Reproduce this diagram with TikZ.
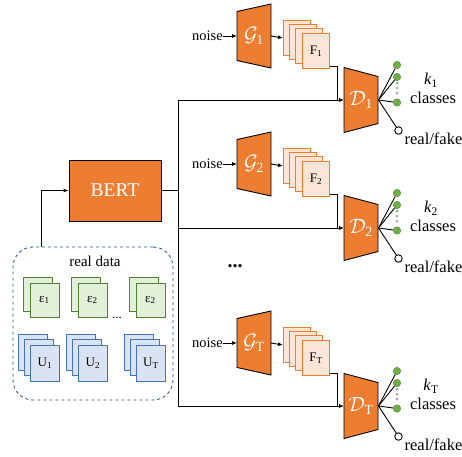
\documentclass[tikz,border=0pt]{standalone}
\usepackage{fontspec}
\setmainfont{Liberation Serif}
\usetikzlibrary{arrows.meta}
\definecolor{orng}{HTML}{ED7D31}
\definecolor{ffill}{HTML}{FBE5D6}
\definecolor{gfill}{HTML}{E2F0D9}
\definecolor{gdraw}{HTML}{548235}
\definecolor{bfill}{HTML}{DAE3F3}
\definecolor{bdraw}{HTML}{4472C4}
\definecolor{boxblue}{HTML}{2F5597}
\definecolor{dotgreen}{HTML}{70AD47}
\tikzset{
  conn/.style={line width=0.9pt},
  arr/.style={conn,-{Latex[length=5pt,width=4pt]}},
  trap/.style={fill=orng,draw=black,line width=0.9pt},
  frect/.style={fill=ffill,draw=orng,line width=1pt},
  grect/.style={fill=gfill,draw=gdraw,line width=0.9pt},
  brect/.style={fill=bfill,draw=bdraw,line width=0.9pt},
  noisetxt/.style={inner sep=0pt,anchor=east,font=\fontsize{14.5}{16}\selectfont},
  bigtxt/.style={inner sep=0pt,font=\fontsize{16.5}{18}\selectfont},
  wlab/.style={inner sep=0pt,text=white,font=\fontsize{20}{22}\selectfont},
  gdot/.style={circle,fill=dotgreen,draw=dotgreen!80!black,line width=0.4pt,minimum size=7.5pt,inner sep=0pt},
  wdot/.style={circle,fill=white,draw=black,line width=0.9pt,minimum size=7.5pt,inner sep=0pt},
  sdot/.style={circle,fill=black!35,minimum size=3pt,inner sep=0pt},
}
\begin{document}
\begin{tikzpicture}[x=1pt,y=-1pt]
\useasboundingbox (0,0) rectangle (462,456);
% BERT
\node[fill=orng,draw=black,line width=0.9pt,minimum width=92pt,minimum height=61pt,inner sep=0pt,text=white,font=\fontsize{19.5}{21}\selectfont] (bert) at (115,190.5) {BERT};
% real data box
\node[draw=boxblue,dashed,line width=0.9pt,rounded corners=20pt,minimum width=160pt,minimum height=153pt,inner sep=0pt] (real) at (93,323.5) {};
\node[inner sep=0pt,font=\fontsize{15}{16}\selectfont] (rdlab) at (95,261) {real data};
\coordinate (rtop) at (41,247);
\draw[arr] (rtop) |- (bert.west);
% green stacks
\foreach \bx/\lb/\nm in {23/{ε\textsubscript{1}}/e1, 71/{ε\textsubscript{2}}/e2, 129/{ε\textsubscript{2}}/e3}{
  \draw[grect] (\bx,277) rectangle ++(29,34);
  \node[grect,minimum width=29pt,minimum height=34pt,inner sep=0pt,anchor=north west,font=\fontsize{13}{14}\selectfont] (\nm) at (\bx+6.5,282.5) {\lb};
}
\node[inner sep=0pt,font=\fontsize{13}{14}\selectfont] (edots) at (117,318) {...};
% blue stacks
\foreach \bx/\lb/\nm in {18/{U\textsubscript{1}}/u1, 66/{U\textsubscript{2}}/u2, 124/{U\textsubscript{T}}/u3}{
  \draw[brect] (\bx,334) rectangle ++(29,36);
  \draw[brect] (\bx+6,339.5) rectangle ++(29,36);
  \node[brect,minimum width=29pt,minimum height=36pt,inner sep=0pt,anchor=north west,font=\fontsize{13}{14}\selectfont] (\nm) at (\bx+12,345) {\lb};
}
% bus
\coordinate (bus) at (178,190.5);
\coordinate (busT) at (178,100);
\coordinate (busB) at (178,406);
\draw[conn] (bert.east) -- (bus);
\draw[conn] (busT) -- (busB);
% groups
\foreach \yg/\yd/\s in {36/100/1, 164/228/2, 343/406/T}{
  % noise and G
  \node[noisetxt] (noise\s) at (223,\yg) {noise};
  \draw[trap] (237,\yg-24.5) -- (271,\yg-32) -- (271,\yg+32) -- (237,\yg+24.5) -- cycle;
  \coordinate (gl\s) at (237,\yg);
  \coordinate (gr\s) at (271,\yg);
  \node[wlab] (G\s) at (254,\yg) {$\mathcal{G}_{\mathrm{\s}}$};
  \draw[arr] (noise\s.east) -- (gl\s);
  % F stack
  \node[frect,minimum width=27pt,minimum height=35pt,inner sep=0pt,anchor=north west] (fb\s) at (283,\yg-16) {};
  \draw[frect] (289,\yg-12) rectangle ++(27,35);
  \draw[frect] (295,\yg-7.5) rectangle ++(27,35);
  \node[frect,minimum width=27pt,minimum height=35pt,inner sep=0pt,anchor=north west,font=\fontsize{13}{14}\selectfont] (F\s) at (302,\yg-3) {F\textsubscript{\s}};
  \draw[arr] (gr\s) -- (fb\s.west);
  % D
  \draw[trap] (344,\yd-32.5) -- (378,\yd-23.5) -- (378,\yd+23.5) -- (344,\yd+32.5) -- cycle;
  \coordinate (dl\s) at (344,\yd);
  \coordinate (dr\s) at (378.5,\yd);
  \coordinate (bj\s) at (178,\yd);
  \coordinate (mj\s) at (337,\yd);
  \node[wlab] (D\s) at (361,\yd) {$\mathcal{D}_{\mathrm{\s}}$};
  \draw[arr] (bj\s) -- (dl\s);
  \draw[conn] ([yshift=-15pt]F\s.east) -| (mj\s);
  % outputs
  \node[gdot] (c1\s) at (397,\yd-35) {};
  \node[gdot] (c2\s) at (397,\yd-23) {};
  \node[gdot] (c3\s) at (397,\yd+2.5) {};
  \node[wdot] (w\s) at (398.5,\yd+30.5) {};
  \node[sdot] (s1\s) at (397,\yd-17) {};
  \node[sdot] (s2\s) at (397,\yd-12) {};
  \node[sdot] (s3\s) at (397,\yd-7) {};
  \foreach \c in {c1\s,c2\s,c3\s,w\s}{\draw[conn] (dr\s) -- (\c);}
  \node[bigtxt] (k\s) at (431,\yd-20) {\textit{k}\textsubscript{\s}};
  \node[bigtxt] (cl\s) at (433,\yd-2.5) {classes};
  \node[bigtxt] (rf\s) at (433.5,\yd+39) {real/fake};
}
\node[inner sep=0pt,font=\fontsize{20}{22}\selectfont\bfseries] (vdots) at (235,266) {...};
\end{tikzpicture}
\end{document}
